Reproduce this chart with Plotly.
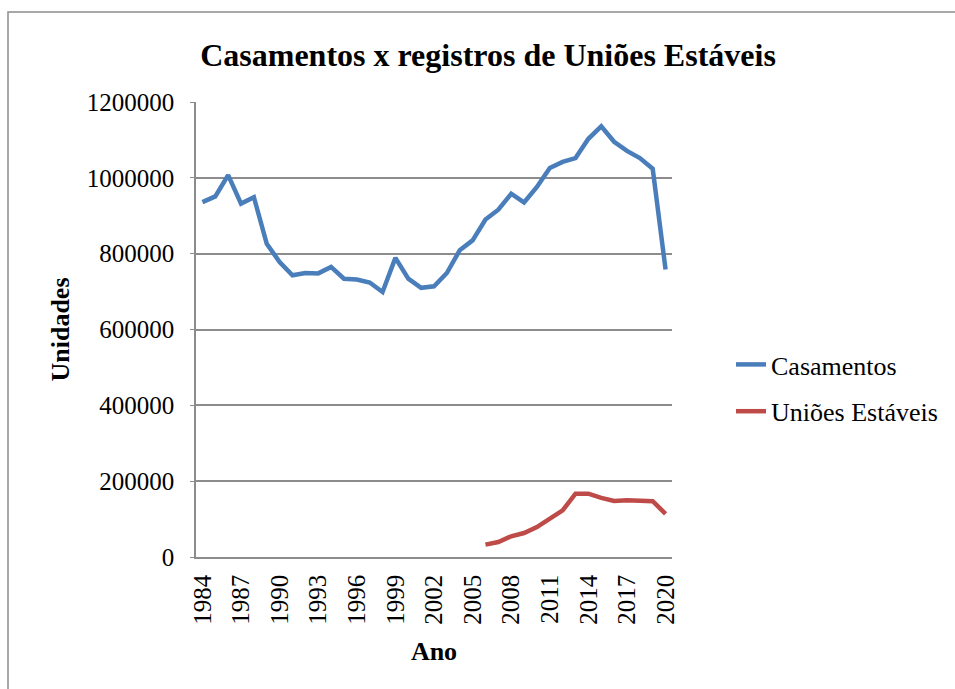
import plotly.graph_objects as go

years = list(range(1984, 2021))
casamentos = [936000, 951000, 1007000, 932000, 949000, 826000, 778000, 743000, 749000, 748000,
              765000, 734000, 732000, 724000, 699000, 789000, 734000, 710000, 714000, 749000,
              809000, 835000, 890000, 916000, 958000, 935000, 976000, 1026000, 1042000, 1052000,
              1103000, 1136000, 1095000, 1071000, 1052000, 1024000, 758000]
uniao_years = list(range(2006, 2021))
unioes = [32700, 39600, 54600, 63300, 79000, 101000, 123000, 167000, 167000, 156000,
          148000, 150000, 149000, 147000, 114000]
tick_years = list(range(1984, 2021, 3))
y_ticks = [0, 200000, 400000, 600000, 800000, 1000000, 1200000]

FONT = "Liberation Serif"
W, H = 955, 689
L, R, T, B = 196, 672, 102, 557

fig = go.Figure()
fig.add_trace(go.Scatter(x=years, y=casamentos, mode="lines", name="Casamentos",
                         line=dict(color="#4a7ebb", width=4.5), legendgroup="a"))
fig.add_trace(go.Scatter(x=uniao_years, y=unioes, mode="lines", name="Uniões Estáveis",
                         line=dict(color="#be4b48", width=4.5), legendgroup="b"))

pw = R - L
ph = B - T
def px_x(v):
    return (v - L) / pw
def px_y(v):
    return (B - v) / ph

fig.add_shape(type="rect", xref="paper", yref="paper",
              x0=px_x(8), x1=px_x(980), y0=px_y(12), y1=px_y(720),
              line=dict(color="#8c8c8c", width=1.5), fillcolor="rgba(0,0,0,0)", layer="below")

fig.update_layout(
    width=W, height=H,
    margin=dict(l=L, r=W - R, t=T, b=H - B),
    paper_bgcolor="white", plot_bgcolor="white",
    font=dict(family=FONT, color="black", size=26),
    title=dict(text="<b>Casamentos x registros de Uniões Estáveis</b>",
               x=488 / W, xanchor="center", y=1 - 55 / H, yanchor="middle",
               font=dict(family=FONT, size=32, color="black")),
    showlegend=True,
    legend=dict(x=px_x(731), y=px_y(341), xanchor="left", yanchor="top",
                font=dict(family=FONT, size=26, color="black"),
                tracegroupgap=10, bgcolor="rgba(0,0,0,0)"),
)
fig.update_xaxes(range=[1983.5, 2020.5], tickmode="array", tickvals=tick_years,
                 ticktext=[str(y) for y in tick_years], tickangle=-90,
                 tickfont=dict(family=FONT, size=25, color="black"),
                 showgrid=False, showline=True, linecolor="#8c8c8c", linewidth=1.5,
                 ticks="", ticklabelstandoff=6, zeroline=False,
                 title=dict(text="<b>Ano</b>", font=dict(family=FONT, size=26, color="black"), standoff=18))
fig.update_yaxes(range=[0, 1200000], tickmode="array", tickvals=y_ticks,
                 ticktext=[str(v) for v in y_ticks],
                 tickfont=dict(family=FONT, size=25, color="black"),
                 showgrid=True, gridcolor="#8c8c8c", gridwidth=1.5,
                 showline=True, linecolor="#8c8c8c", linewidth=1.5,
                 ticks="outside", ticklen=4, tickcolor="#8c8c8c", ticklabelstandoff=11,
                 zeroline=False,
                 title=dict(text="<b>Unidades</b>", font=dict(family=FONT, size=26, color="black"), standoff=10))

fig.write_html("out.html")
